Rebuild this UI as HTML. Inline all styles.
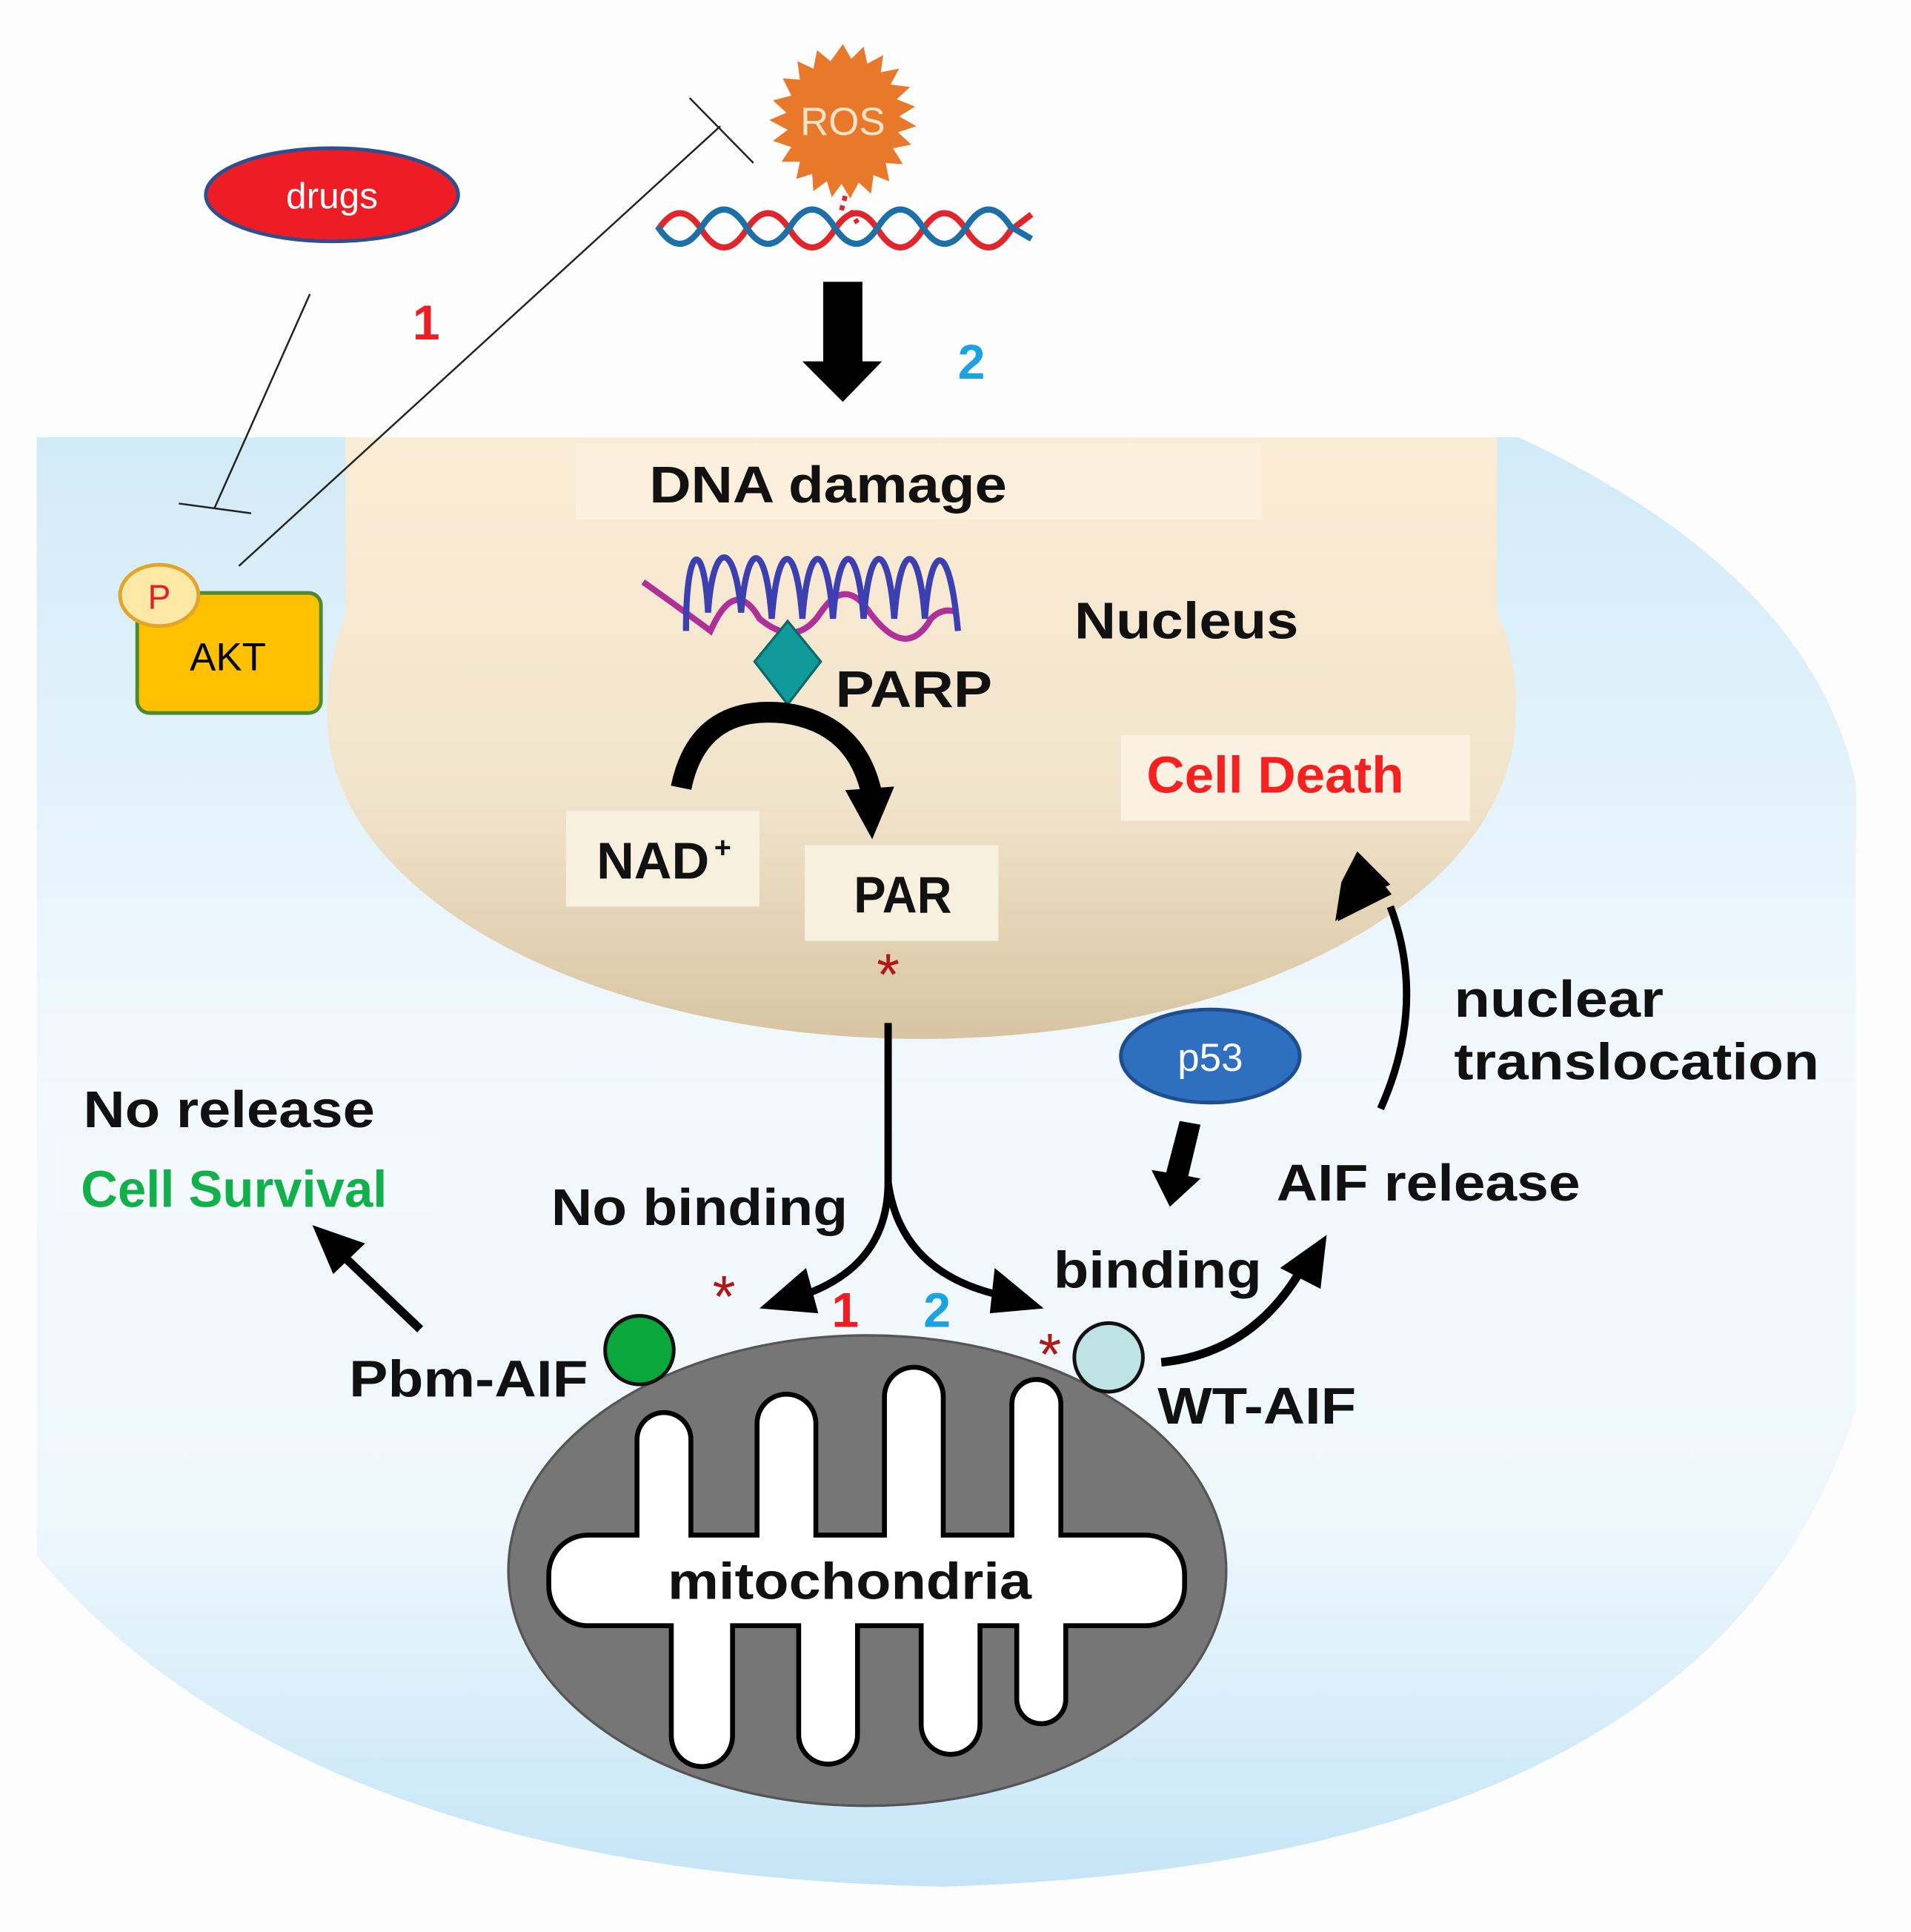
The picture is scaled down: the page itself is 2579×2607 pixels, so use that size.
<!DOCTYPE html>
<html><head><meta charset="utf-8"><style>
html,body{margin:0;padding:0;background:#fff;}
svg{display:block;}
text{font-family:"Liberation Sans",sans-serif;}
</style></head><body>
<svg width="2579" height="2607" viewBox="0 0 1560 1577" preserveAspectRatio="none" xmlns="http://www.w3.org/2000/svg">
<defs>
<linearGradient id="cell" x1="0" y1="0" x2="0" y2="1">
<stop offset="0" stop-color="#d2ebf8"/><stop offset="0.45" stop-color="#f3f9fd"/><stop offset="0.75" stop-color="#eef7fc"/><stop offset="1" stop-color="#c4e5f6"/>
</linearGradient>
<linearGradient id="nuc" x1="0" y1="0" x2="0" y2="1">
<stop offset="0" stop-color="#fbecd6"/><stop offset="0.6" stop-color="#f1e4cc"/><stop offset="1" stop-color="#d8c4a1"/>
</linearGradient>
</defs>
<rect width="1560" height="1577" fill="#fdfdfd"/>
<path d="M30,357 H1240 Q1480,470 1515,640 V1150 Q1400,1520 770,1540 Q250,1530 30,1270 Z" fill="url(#cell)"/>
<path d="M282,357 H1222 V500 Q1240,540 1237,585 A485,263 0 0 1 267,585 Q267,540 282,500 Z" fill="url(#nuc)"/>
<rect x="470" y="362" width="560" height="62" fill="#fcefdc"/>
<rect x="915" y="600" width="285" height="70" fill="#fbf1e2"/>

<ellipse cx="271" cy="159" rx="103" ry="38" fill="#ee1c25" stroke="#2e4f8f" stroke-width="3"/>
<text x="271" y="170" font-size="30" fill="#fff" text-anchor="middle">drugs</text>
<line x1="253" y1="240" x2="175" y2="415" stroke="#222" stroke-width="1.5"/>
<line x1="146" y1="411" x2="205" y2="419" stroke="#222" stroke-width="1.5"/>
<line x1="195" y1="462" x2="588" y2="103" stroke="#222" stroke-width="1.5"/>
<line x1="563" y1="80" x2="615" y2="133" stroke="#222" stroke-width="1.5"/>
<text x="348" y="277" font-size="40" font-weight="bold" fill="#ee1c25" text-anchor="middle">1</text>
<text x="793" y="309" font-size="40" font-weight="bold" fill="#1aa3e0" text-anchor="middle">2</text>

<g transform="translate(688,98)">
<path fill="#e8792a" d="M0,-62 L7,-50 L17,-60 L20,-46 L33,-53 L31,-39 L46,-42 L39,-29 L55,-27 L44,-17 L59,-11 L46,-3 L60,5 L45,10 L56,20 L41,23 L49,36 L35,35 L38,50 L25,45 L23,60 L13,51 L6,64 L-1,52 L-9,63 L-13,50 L-24,58 L-25,44 L-38,48 L-35,34 L-50,34 L-42,22 L-57,17 L-45,8 L-60,0 L-46,-6 L-57,-16 L-42,-20 L-49,-34 L-35,-33 L-37,-48 L-24,-42 L-21,-57 L-10,-48 Z"/>
<text x="0" y="12" font-size="32" fill="#fde3c8" text-anchor="middle">ROS</text>
</g>
<path d="M537,188 Q555,160 573,188 T609,188 T645,188 T681,188 T717,188 T753,188 T789,188 T825,188 L842,175" fill="none" stroke="#e0262c" stroke-width="5"/>
<path d="M537,185 Q555,213 573,185 T609,185 T645,185 T681,185 T717,185 T753,185 T789,185 T825,185 L842,195" fill="none" stroke="#1d6fa5" stroke-width="5"/>
<path d="M690,160 L686,175 M694,172 L700,182" stroke="#e0262c" stroke-width="4" stroke-dasharray="4 4"/>
<polygon points="672,230 704,230 704,295 720,295 688,328 655,295 672,295" fill="#000"/>

<rect x="112" y="484" width="150" height="98" rx="10" fill="#ffc000" stroke="#4e8a2e" stroke-width="3"/>
<text x="186" y="547" font-size="32" fill="#000" text-anchor="middle">AKT</text>
<ellipse cx="130" cy="486" rx="32" ry="25" fill="#fde8a6" stroke="#e2a52a" stroke-width="3"/>
<text x="130" y="497" font-size="28" fill="#ee1c25" text-anchor="middle">P</text>

<g font-weight="bold" fill="#111" font-size="42" lengthAdjust="spacingAndGlyphs">
<text x="530" y="410" textLength="292" lengthAdjust="spacingAndGlyphs">DNA damage</text>
<text x="682" y="577" textLength="128" lengthAdjust="spacingAndGlyphs">PARP</text>
<text x="877" y="521" textLength="183" lengthAdjust="spacingAndGlyphs">Nucleus</text>
<text x="487" y="717" textLength="92" lengthAdjust="spacingAndGlyphs">NAD</text>
<text x="697" y="745" textLength="80" lengthAdjust="spacingAndGlyphs">PAR</text>
<text x="1187" y="830" textLength="171" lengthAdjust="spacingAndGlyphs">nuclear</text>
<text x="1187" y="881" textLength="298" lengthAdjust="spacingAndGlyphs">translocation</text>
<text x="1042" y="980" textLength="248" lengthAdjust="spacingAndGlyphs">AIF release</text>
<text x="860" y="1051" textLength="170" lengthAdjust="spacingAndGlyphs">binding</text>
<text x="450" y="1000" textLength="242" lengthAdjust="spacingAndGlyphs">No binding</text>
<text x="68" y="920" textLength="238" lengthAdjust="spacingAndGlyphs">No release</text>
<text x="285" y="1140" textLength="195" lengthAdjust="spacingAndGlyphs">Pbm-AIF</text>
<text x="945" y="1162" textLength="162" lengthAdjust="spacingAndGlyphs">WT-AIF</text>
</g>

<path d="M525,475 Q560,500 580,515 Q600,470 620,505 Q650,530 670,500 Q690,470 710,500 Q740,540 760,505 Q770,495 782,500" fill="none" stroke="#b0309a" stroke-width="5"/>
<path d="M560,515 C560,440 575,440 578,500 C582,440 600,440 605,500 C610,440 625,440 630,505 C635,440 650,440 655,505 C660,440 675,440 680,505 C685,440 700,440 705,505 C710,440 725,440 730,505 C735,440 750,440 755,505 C760,440 775,440 782,515" fill="none" stroke="#3b3fb0" stroke-width="5"/>
<polygon points="643,507 670,540 643,575 616,540" fill="#119a9a" stroke="#0a6a6a" stroke-width="2"/>
<path d="M556,643 Q570,575 640,582 Q700,590 712,650" fill="none" stroke="#000" stroke-width="17"/>
<polygon points="690,645 730,642 712,685" fill="#000"/>
<rect x="462" y="662" width="158" height="78" fill="#f8f0df"/>
<text x="487" y="717" font-size="42" font-weight="bold" fill="#111" textLength="92" lengthAdjust="spacingAndGlyphs">NAD</text>
<text x="590" y="700" font-size="24" font-weight="bold" fill="#111" text-anchor="middle">+</text>
<rect x="657" y="690" width="158" height="78" fill="#f8f0df"/>
<text x="697" y="745" font-size="42" font-weight="bold" fill="#111" textLength="80" lengthAdjust="spacingAndGlyphs">PAR</text>
<text x="936" y="647" font-size="42" font-weight="bold" fill="#f52020" textLength="210" lengthAdjust="spacingAndGlyphs">Cell Death</text>
<text x="725" y="812" font-size="48" fill="#b01818" text-anchor="middle">*</text>

<path d="M725,835 V965 Q725,1040 640,1062" fill="none" stroke="#000" stroke-width="6"/>
<path d="M725,965 Q735,1040 820,1058" fill="none" stroke="#000" stroke-width="6"/>
<polygon points="620,1068 658,1035 668,1072" fill="#000"/>
<polygon points="852,1068 812,1035 808,1072" fill="#000"/>
<text x="690" y="1083" font-size="40" font-weight="bold" fill="#ee1c25" text-anchor="middle">1</text>
<text x="765" y="1083" font-size="40" font-weight="bold" fill="#1aa3e0" text-anchor="middle">2</text>
<text x="591" y="1075" font-size="48" fill="#b01818" text-anchor="middle">*</text>
<text x="857" y="1122" font-size="48" fill="#b01818" text-anchor="middle">*</text>

<ellipse cx="988" cy="862" rx="73" ry="38" fill="#2e6fbf" stroke="#1f4e8f" stroke-width="3"/>
<text x="988" y="874" font-size="32" fill="#fff" text-anchor="middle">p53</text>
<polygon points="963,915 980,918 970,960 980,962 955,985 940,955 952,957" fill="#000"/>
<path d="M1127,905 Q1165,820 1135,740" fill="none" stroke="#000" stroke-width="6"/>
<polygon points="1108,695 1135,722 1118,730 1090,752 1095,720" fill="#000"/>
<polygon points="1108,695 1136,730 1092,752" fill="#000"/>
<path d="M948,1112 Q1020,1105 1060,1040" fill="none" stroke="#000" stroke-width="7"/>
<polygon points="1083,1008 1078,1052 1045,1035" fill="#000"/>

<rect x="45" y="927" width="310" height="62" fill="#f3f9fd"/>
<text x="66" y="985" font-size="42" font-weight="bold" fill="#11b04b" textLength="250" lengthAdjust="spacingAndGlyphs">Cell Survival</text>
<line x1="343" y1="1085" x2="280" y2="1025" stroke="#000" stroke-width="7"/>
<polygon points="255,1000 298,1015 272,1040" fill="#000"/>

<ellipse cx="708" cy="1282" rx="293" ry="192" fill="#767676" stroke="#555" stroke-width="2"/>
<g stroke="#000" stroke-width="8" fill="#000">
<rect x="450" y="1255" width="515" height="70" rx="30"/>
<rect x="522" y="1155" width="40" height="140" rx="20"/>
<rect x="620" y="1140" width="44" height="160" rx="22"/>
<rect x="724" y="1118" width="44" height="180" rx="22"/>
<rect x="828" y="1128" width="36" height="170" rx="18"/>
<rect x="550" y="1290" width="46" height="150" rx="23"/>
<rect x="654" y="1290" width="44" height="148" rx="22"/>
<rect x="754" y="1290" width="44" height="140" rx="22"/>
<rect x="832" y="1290" width="36" height="115" rx="18"/>
</g>
<g fill="#fff">
<rect x="450" y="1255" width="515" height="70" rx="30"/>
<rect x="522" y="1155" width="40" height="140" rx="20"/>
<rect x="620" y="1140" width="44" height="160" rx="22"/>
<rect x="724" y="1118" width="44" height="180" rx="22"/>
<rect x="828" y="1128" width="36" height="170" rx="18"/>
<rect x="550" y="1290" width="46" height="150" rx="23"/>
<rect x="654" y="1290" width="44" height="148" rx="22"/>
<rect x="754" y="1290" width="44" height="140" rx="22"/>
<rect x="832" y="1290" width="36" height="115" rx="18"/>
</g>
<text x="545" y="1305" font-size="42" font-weight="bold" fill="#111" textLength="297" lengthAdjust="spacingAndGlyphs">mitochondria</text>
<circle cx="522" cy="1102" r="28" fill="#0aa83c" stroke="#111" stroke-width="3"/>
<circle cx="905" cy="1108" r="28" fill="#bfe3e3" stroke="#111" stroke-width="3"/>
</svg>
</body></html>
